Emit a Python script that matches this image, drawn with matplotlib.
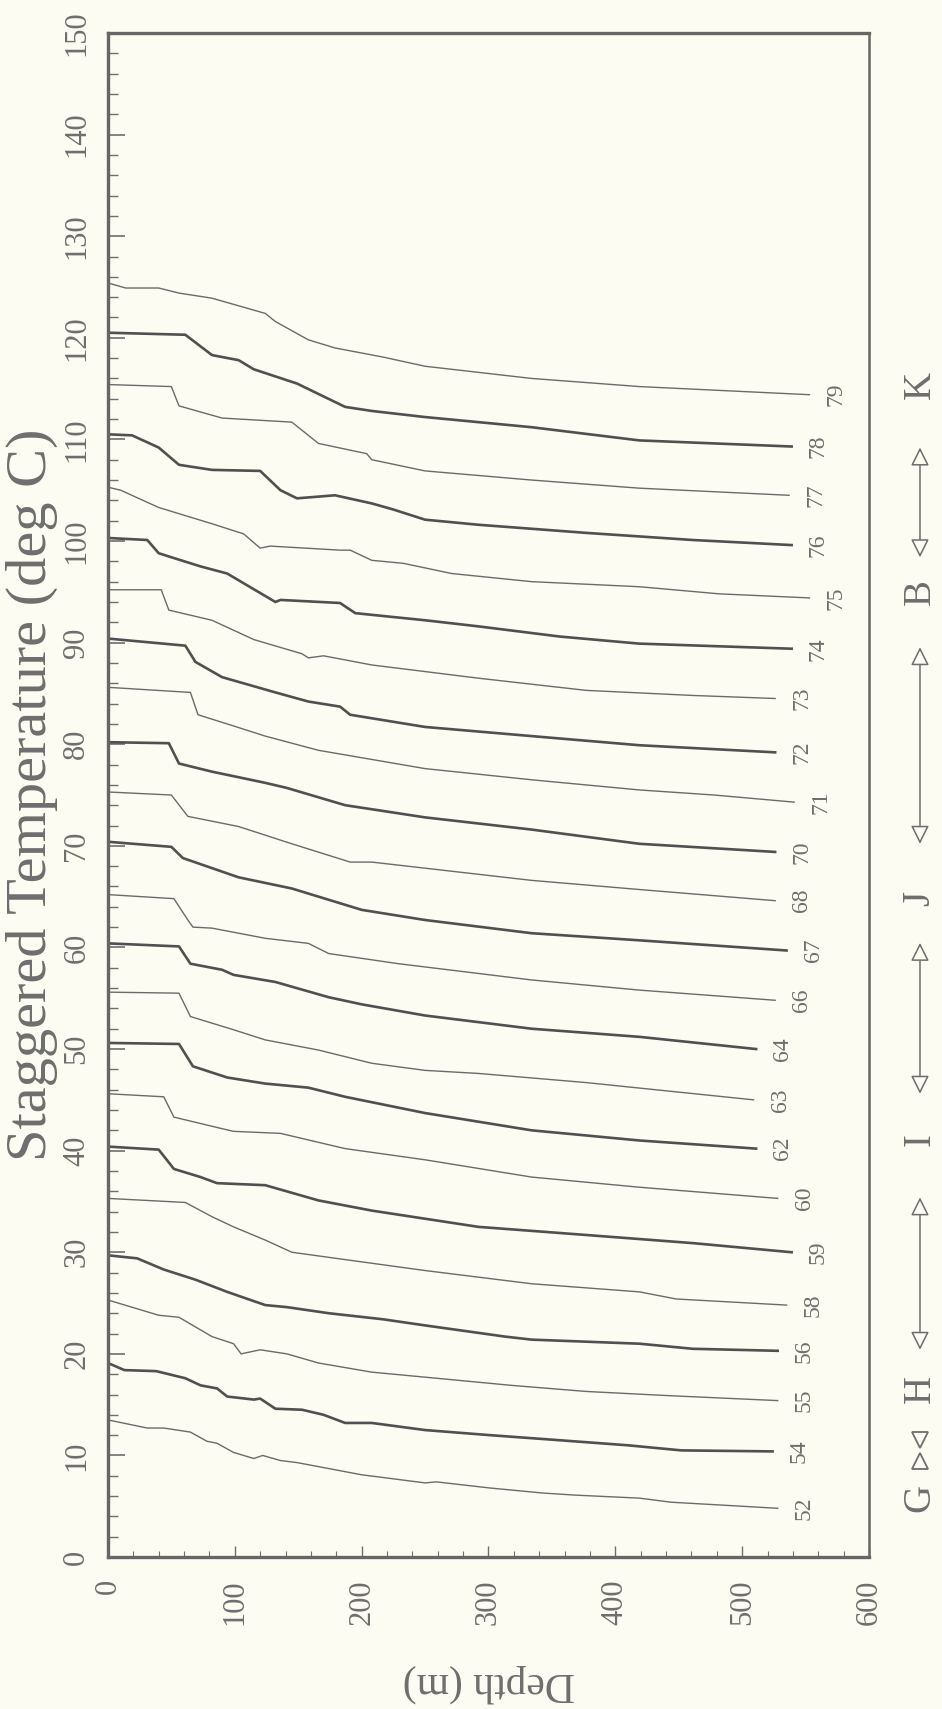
import matplotlib
matplotlib.use("Agg")
import matplotlib.pyplot as plt

# profile ids, bottom to top (each one staggered by 5 deg C)
profile_ids = [52, 54, 55, 56, 58, 59, 60, 62, 63, 64, 66, 67,
               68, 70, 71, 72, 73, 74, 75, 76, 77, 78, 79]
thick_ids = [54, 56, 59, 62, 64, 67, 70, 72, 74, 76, 78]

# depth (m) / staggered temperature (deg C)
depth_52 = [0, 31, 44, 65, 78, 86, 99, 115, 122, 136, 149, 200, 250, 259, 301, 343, 368, 419, 444, 528]
temp_52 = [13.5, 12.7, 12.7, 12.3, 11.4, 11.2, 10.3, 9.7, 10.0, 9.5, 9.3, 8.1, 7.3, 7.4, 6.8, 6.3, 6.1, 5.8, 5.4, 4.8]

depth_54 = [0, 13, 38, 61, 73, 86, 94, 115, 120, 132, 153, 170, 187, 208, 250, 301, 356, 410, 452, 524]
temp_54 = [19.1, 18.4, 18.3, 17.6, 16.9, 16.6, 15.8, 15.5, 15.6, 14.6, 14.5, 14.0, 13.2, 13.2, 12.5, 12.0, 11.5, 11.0, 10.5, 10.4]

depth_55 = [0, 40, 56, 82, 99, 105, 120, 141, 166, 208, 259, 318, 377, 440, 528]
temp_55 = [25.3, 23.8, 23.6, 21.7, 21.0, 20.0, 20.4, 20.0, 19.1, 18.2, 17.6, 16.9, 16.3, 15.9, 15.4]

depth_56 = [0, 23, 44, 69, 94, 124, 141, 174, 217, 250, 313, 334, 419, 461, 528]
temp_56 = [29.7, 29.4, 28.3, 27.3, 26.1, 24.8, 24.6, 24.0, 23.4, 22.8, 21.7, 21.4, 21.0, 20.5, 20.3]

depth_58 = [0, 61, 82, 99, 124, 145, 174, 250, 334, 419, 448, 535]
temp_58 = [35.3, 34.9, 33.5, 32.5, 31.2, 30.0, 29.5, 28.2, 26.9, 26.1, 25.4, 24.8]

depth_59 = [0, 40, 52, 73, 86, 124, 166, 208, 292, 377, 461, 539]
temp_59 = [40.4, 40.1, 38.2, 37.4, 36.8, 36.6, 35.1, 34.1, 32.5, 31.7, 30.9, 30.0]

depth_60 = [0, 44, 52, 82, 99, 136, 187, 250, 334, 419, 528]
temp_60 = [45.6, 45.3, 43.3, 42.4, 41.9, 41.7, 40.2, 39.1, 37.4, 36.4, 35.3]

depth_62 = [0, 56, 67, 94, 124, 158, 187, 250, 334, 419, 511]
temp_62 = [50.6, 50.5, 48.3, 47.2, 46.6, 46.2, 45.3, 43.7, 42.0, 41.0, 40.2]

depth_63 = [0, 56, 65, 99, 124, 166, 208, 250, 292, 377, 509]
temp_63 = [55.6, 55.5, 53.2, 51.9, 50.9, 49.9, 48.6, 47.9, 47.6, 46.7, 45.0]

depth_64 = [0, 56, 65, 90, 99, 132, 174, 200, 250, 334, 419, 511]
temp_64 = [60.4, 60.1, 58.4, 57.8, 57.3, 56.6, 55.1, 54.4, 53.3, 52.0, 51.2, 50.0]

depth_66 = [0, 52, 63, 67, 82, 124, 158, 174, 229, 334, 419, 526]
temp_66 = [65.2, 64.8, 62.7, 62.0, 61.9, 60.9, 60.4, 59.4, 58.4, 56.8, 55.8, 54.8]

depth_67 = [0, 50, 59, 103, 145, 200, 250, 334, 419, 535]
temp_67 = [70.4, 69.9, 68.8, 66.9, 65.8, 63.7, 62.7, 61.4, 60.7, 59.7]

depth_68 = [0, 50, 63, 103, 145, 191, 208, 250, 334, 419, 526]
temp_68 = [75.3, 75.0, 72.9, 71.9, 70.2, 68.4, 68.4, 67.8, 66.6, 65.7, 64.6]

depth_70 = [0, 48, 56, 82, 124, 141, 187, 208, 250, 334, 419, 526]
temp_70 = [80.2, 80.1, 78.1, 77.3, 76.2, 75.7, 74.0, 73.6, 72.8, 71.6, 70.2, 69.4]

depth_71 = [0, 65, 71, 99, 124, 166, 250, 334, 419, 478, 541]
temp_71 = [85.6, 85.1, 82.9, 81.8, 80.8, 79.4, 77.6, 76.5, 75.5, 75.0, 74.3]

depth_72 = [0, 61, 69, 90, 132, 158, 183, 191, 250, 334, 419, 526]
temp_72 = [90.4, 89.7, 88.1, 86.6, 85.1, 84.2, 83.7, 82.9, 81.7, 80.8, 79.9, 79.2]

depth_73 = [0, 42, 48, 82, 115, 153, 158, 170, 208, 292, 377, 461, 526]
temp_73 = [95.2, 95.2, 93.2, 92.2, 90.3, 88.9, 88.5, 88.7, 87.8, 86.5, 85.3, 84.8, 84.5]

depth_74 = [0, 31, 40, 50, 73, 94, 132, 136, 183, 195, 250, 292, 356, 419, 539]
temp_74 = [100.3, 100.1, 98.8, 98.4, 97.5, 96.8, 94.0, 94.2, 93.9, 92.9, 92.2, 91.6, 90.6, 89.9, 89.4]

depth_75 = [0, 10, 40, 82, 107, 120, 128, 183, 191, 208, 233, 271, 334, 419, 482, 553]
temp_75 = [105.3, 105.0, 103.3, 101.7, 100.7, 99.3, 99.5, 99.1, 99.1, 98.1, 97.8, 96.8, 96.0, 95.5, 94.8, 94.4]

depth_76 = [0, 19, 40, 56, 82, 120, 136, 149, 179, 208, 225, 250, 292, 377, 461, 539]
temp_76 = [110.5, 110.4, 109.2, 107.5, 107.0, 106.9, 105.0, 104.2, 104.5, 103.7, 103.1, 102.1, 101.6, 100.8, 100.1, 99.6]

depth_77 = [0, 50, 56, 90, 145, 166, 204, 208, 250, 334, 419, 537]
temp_77 = [115.4, 115.2, 113.3, 112.1, 111.7, 109.6, 108.6, 108.0, 106.9, 106.0, 105.2, 104.5]

depth_78 = [0, 61, 82, 103, 115, 149, 187, 208, 250, 334, 419, 539]
temp_78 = [120.5, 120.3, 118.3, 117.8, 116.9, 115.5, 113.2, 112.8, 112.2, 111.2, 109.9, 109.3]

depth_79 = [0, 14, 40, 56, 82, 124, 132, 158, 179, 217, 250, 334, 419, 553]
temp_79 = [125.4, 124.9, 124.9, 124.4, 123.9, 122.4, 121.6, 119.8, 119.0, 118.1, 117.2, 116.0, 115.2, 114.4]

depth_ticks = [0, 100, 200, 300, 400, 500, 600]
temp_ticks = [0, 10, 20, 30, 40, 50, 60, 70, 80, 90, 100, 110, 120, 130, 140, 150]

# section letters along the right side (bottom to top)
section_letters = ['G', 'H', 'I', 'J', 'B', 'K']

profiles = [
    (52, depth_52, temp_52), (54, depth_54, temp_54), (55, depth_55, temp_55),
    (56, depth_56, temp_56), (58, depth_58, temp_58), (59, depth_59, temp_59),
    (60, depth_60, temp_60), (62, depth_62, temp_62), (63, depth_63, temp_63),
    (64, depth_64, temp_64), (66, depth_66, temp_66), (67, depth_67, temp_67),
    (68, depth_68, temp_68), (70, depth_70, temp_70), (71, depth_71, temp_71),
    (72, depth_72, temp_72), (73, depth_73, temp_73), (74, depth_74, temp_74),
    (75, depth_75, temp_75), (76, depth_76, temp_76), (77, depth_77, temp_77),
    (78, depth_78, temp_78), (79, depth_79, temp_79),
]

paper = '#fcfcf2'
ink = '#6e6e6e'
plt.rcParams['font.family'] = ['Liberation Serif', 'DejaVu Serif']

fig = plt.figure(figsize=(9.42, 17.09), dpi=100, facecolor=paper)
ax = fig.add_axes([0.1146, 0.0889, 0.8079, 0.8918])
ax.set_facecolor(paper)

for pid, d, t in profiles:
    if pid in thick_ids:
        ax.plot(d, t, color='#505050', lw=1.9, solid_joinstyle='round')
    else:
        ax.plot(d, t, color='#6a6a6a', lw=1.0, solid_joinstyle='round')
    ax.text(d[-1] + 21, t[-1], str(pid), rotation=90, ha='center', va='center',
            fontsize=17, color=ink)

ax.set_xlim(0, 600)
ax.set_ylim(0, 150)

ax.set_xticks(depth_ticks)
ax.set_xticklabels([str(v) for v in depth_ticks], rotation=90)
ax.set_xticks(range(0, 601, 20), minor=True)
ax.set_yticks(temp_ticks)
ax.set_yticklabels([str(v) for v in temp_ticks], rotation=90, va='center')
ax.set_yticks(range(0, 151, 2), minor=True)

ax.tick_params(which='both', direction='in', top=False, right=False,
               colors=ink, labelsize=22)
ax.xaxis.set_tick_params(which='major', length=8, width=1.0, pad=16)
ax.xaxis.set_tick_params(which='minor', length=4, width=0.8)
ax.yaxis.set_tick_params(which='major', length=12, width=1.2, pad=12)
ax.yaxis.set_tick_params(which='minor', length=7, width=1.0)

for s in ax.spines.values():
    s.set_color('#666666')
    s.set_linewidth(2.4)
ax.spines['right'].set_linewidth(1.8)

ax.set_ylabel('Staggered Temperature (deg C)', fontsize=42, color=ink, va='center')
ax.yaxis.set_label_coords(-0.10, 0.5)
ax.set_xlabel('Depth (m)', fontsize=30, color=ink, rotation=180, va='center')
ax.xaxis.set_label_coords(0.5, -0.083)

# section markers: letters with open-headed arrows between them
xa = 1.067
letter_y = [0.039, 0.110, 0.274, 0.432, 0.633, 0.769]
for letter, y in zip(section_letters, letter_y):
    ax.text(xa, y, letter, transform=ax.transAxes, rotation=90, ha='center',
            va='center', fontsize=28, color=ink)

arrow_spans = [(0.136, 0.236), (0.304, 0.403), (0.468, 0.597), (0.656, 0.728)]
for y0, y1 in arrow_spans:
    ax.annotate('', xy=(xa, y1), xytext=(xa, y0), xycoords='axes fraction',
                textcoords='axes fraction', annotation_clip=False,
                arrowprops=dict(arrowstyle='<|-|>', mutation_scale=28,
                                color=ink, fc=paper, lw=1.1,
                                shrinkA=0, shrinkB=0))
# the tiny double arrow between G and H (two heads meeting)
ax.plot([xa], [0.077], transform=ax.transAxes, clip_on=False,
        linestyle='none', marker='v', markersize=11, markerfacecolor=paper,
        markeredgecolor=ink, markeredgewidth=1.3)
ax.plot([xa], [0.063], transform=ax.transAxes, clip_on=False,
        linestyle='none', marker='^', markersize=11, markerfacecolor=paper,
        markeredgecolor=ink, markeredgewidth=1.3)

fig.savefig('out.png', dpi=100, facecolor=paper)
